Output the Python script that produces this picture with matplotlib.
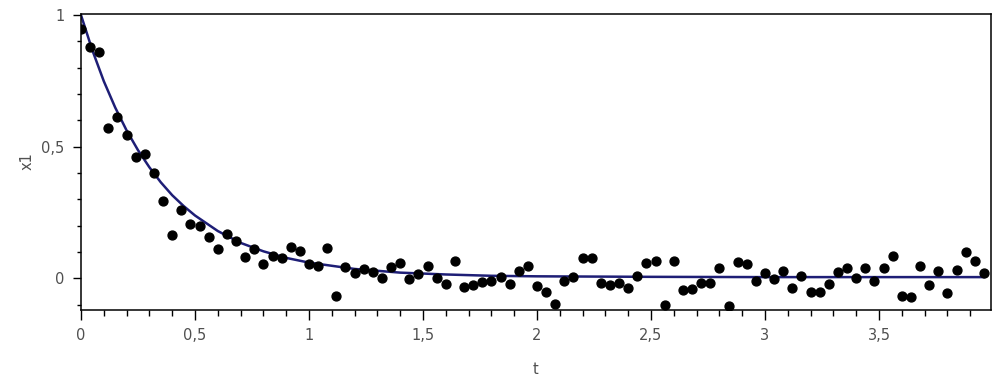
import matplotlib
matplotlib.use('Agg')
import matplotlib.pyplot as plt
from matplotlib.ticker import MultipleLocator, FuncFormatter

t = [0.00, 0.04, 0.08, 0.12, 0.16, 0.20, 0.24, 0.28, 0.32, 0.36,
     0.40, 0.44, 0.48, 0.52, 0.56, 0.60, 0.64, 0.68, 0.72, 0.76,
     0.80, 0.84, 0.88, 0.92, 0.96, 1.00, 1.04, 1.08, 1.12, 1.16,
     1.20, 1.24, 1.28, 1.32, 1.36, 1.40, 1.44, 1.48, 1.52, 1.56,
     1.60, 1.64, 1.68, 1.72, 1.76, 1.80, 1.84, 1.88, 1.92, 1.96,
     2.00, 2.04, 2.08, 2.12, 2.16, 2.20, 2.24, 2.28, 2.32, 2.36,
     2.40, 2.44, 2.48, 2.52, 2.56, 2.60, 2.64, 2.68, 2.72, 2.76,
     2.80, 2.84, 2.88, 2.92, 2.96, 3.00, 3.04, 3.08, 3.12, 3.16,
     3.20, 3.24, 3.28, 3.32, 3.36, 3.40, 3.44, 3.48, 3.52, 3.56,
     3.60, 3.64, 3.68, 3.72, 3.76, 3.80, 3.84, 3.88, 3.92, 3.96]
x1 = [0.946, 0.879, 0.858, 0.570, 0.613, 0.544, 0.461, 0.474, 0.399, 0.294,
      0.165, 0.261, 0.205, 0.198, 0.157, 0.113, 0.170, 0.142, 0.080, 0.111,
      0.056, 0.084, 0.077, 0.119, 0.106, 0.053, 0.049, 0.114, -0.068, 0.043,
      0.022, 0.037, 0.024, 0.001, 0.042, 0.057, -0.001, 0.015, 0.048, 0.001,
      -0.022, 0.067, -0.032, -0.024, -0.015, -0.008, 0.004, -0.023, 0.027, 0.048,
      -0.027, -0.053, -0.099, -0.008, 0.004, 0.077, 0.079, -0.016, -0.024, -0.019,
      -0.038, 0.009, 0.060, 0.067, -0.100, 0.067, -0.043, -0.039, -0.019, -0.018,
      0.039, -0.105, 0.063, 0.056, -0.010, 0.019, -0.001, 0.028, -0.035, 0.009,
      -0.052, -0.051, -0.020, 0.024, 0.041, 0.003, 0.038, -0.008, 0.038, 0.084,
      -0.067, -0.070, 0.047, -0.024, 0.028, -0.056, 0.033, 0.099, 0.065, 0.022]

# fitted curve, read at a few points
fit_t = [0.0, 0.05, 0.1, 0.15, 0.2, 0.25, 0.3, 0.35, 0.4, 0.45, 0.5,
         0.6, 0.7, 0.8, 0.9, 1.0, 1.2, 1.4, 1.6, 1.8, 2.0, 2.5, 3.0, 3.96]
fit_x1 = [1.000, 0.866, 0.749, 0.649, 0.562, 0.487, 0.422, 0.365, 0.316, 0.275, 0.239,
          0.180, 0.135, 0.103, 0.078, 0.060, 0.036, 0.022, 0.015, 0.010, 0.008, 0.006, 0.005, 0.005]

fig = plt.figure(figsize=(10.04, 3.87), dpi=100)
ax = fig.add_axes([81 / 1004, 1 - 309.5 / 387, (990.7 - 81) / 1004, (309.5 - 13.5) / 387])

ax.plot(fit_t, fit_x1, color='#1e1e76', lw=1.8, zorder=2)
ax.plot(t, x1, 'o', color='black', ms=6.4, mec='black', zorder=3)

ax.set_xlim(0, 3.99)
ax.set_ylim(-0.118, 1.006)

comma = FuncFormatter(lambda v, pos: ('%g' % v).replace('.', ','))
ax.xaxis.set_major_locator(MultipleLocator(0.5))
ax.xaxis.set_minor_locator(MultipleLocator(0.1))
ax.yaxis.set_major_locator(MultipleLocator(0.5))
ax.yaxis.set_minor_locator(MultipleLocator(0.1))
ax.xaxis.set_major_formatter(comma)
ax.yaxis.set_major_formatter(comma)

ax.tick_params(axis='x', which='major', length=7, width=1, direction='out', pad=6,
               labelsize=10.5, labelcolor='#505050')
ax.tick_params(axis='x', which='minor', length=4, width=1, direction='out')
ax.tick_params(axis='y', which='major', length=6, width=1, direction='out', pad=6,
               labelsize=10.5, labelcolor='#505050')
ax.tick_params(axis='y', which='minor', length=3, width=1, direction='out')

for s in ax.spines.values():
    s.set_linewidth(1.1)

ax.set_xlabel('t', fontsize=10.5, color='#505050', labelpad=14)
ax.set_ylabel('x1', fontsize=10.5, color='#505050', labelpad=5)

fig.savefig('out.png', dpi=100)
